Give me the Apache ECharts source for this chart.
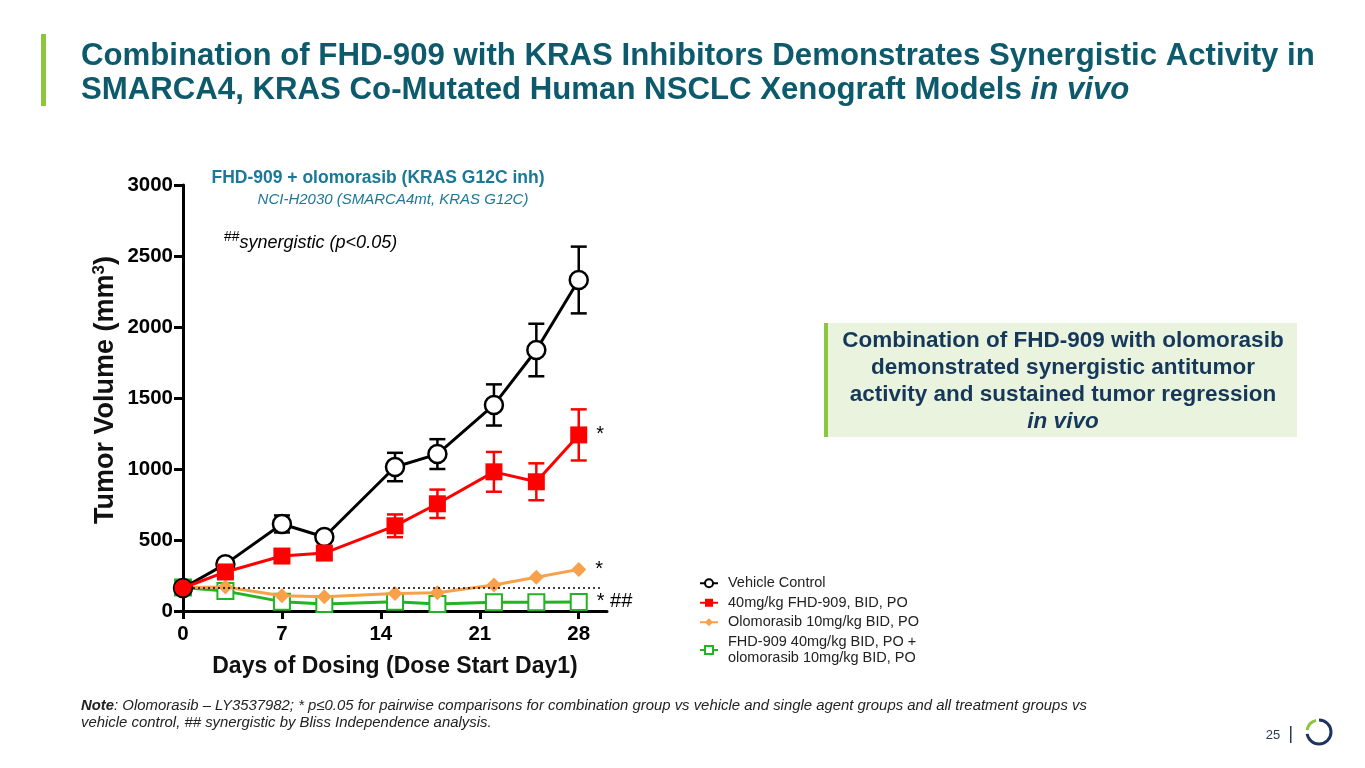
<!DOCTYPE html>
<html>
<head>
<meta charset="utf-8">
<style>
  html, body { margin: 0; padding: 0; background: #fff; }
  #main { width: 1365px; height: 768px; }
</style>
<script src="https://cdn.jsdelivr.net/npm/echarts@6/dist/echarts.min.js"></script>
</head>
<body>
<div id="main"></div>
<script>
    // days of dosing
    var days = [0, 3, 7, 10, 15, 18, 22, 25, 28];
    var xTicks = [0, 7, 14, 21, 28];

    // tumor volume (mm3), mean and SEM
    var vehicle = [162, 330, 613, 521, 1014, 1105, 1451, 1838, 2331];
    var vehicleErr = [15, 25, 60, 25, 100, 105, 145, 185, 235];
    var fhd909 = [162, 275, 387, 408, 600, 755, 980, 910, 1240];
    var fhd909Err = [15, 30, 35, 35, 80, 100, 140, 130, 180];
    var olomorasib = [165, 169, 108, 101, 124, 129, 183, 237, 293];
    var combo = [165, 140, 66, 50, 66, 49, 61, 61, 64];

    var seriesNames = [
        'Vehicle Control',
        '40mg/kg FHD-909, BID, PO',
        'Olomorasib 10mg/kg BID, PO',
        'FHD-909 40mg/kg BID, PO +\nolomorasib 10mg/kg BID, PO'
    ];
    var lastMarks = ['', '*', '*', '* ##'];

    var FONT = 'Arial, "Liberation Sans", sans-serif';

    function pairs(ys, mark) {
        return ys.map(function (y, i) {
            var item = { value: [days[i], y] };
            if (mark && i === ys.length - 1) {
                item.label = {
                    show: true, position: 'right', distance: 9,
                    formatter: mark, color: '#000', fontSize: 20, fontFamily: FONT
                };
            }
            return item;
        });
    }

    function errData(ys, errs) {
        return ys.map(function (y, i) { return [days[i], y, errs[i]]; });
    }

    function errorBars(color) {
        return function (params, api) {
            var x = api.value(0), y = api.value(1), e = api.value(2);
            var top = api.coord([x, y + e]);
            var bot = api.coord([x, y - e]);
            var w = 8;
            var st = { stroke: color, lineWidth: 2.5 };
            return {
                type: 'group',
                children: [
                    { type: 'line', shape: { x1: top[0], y1: top[1], x2: bot[0], y2: bot[1] }, style: st },
                    { type: 'line', shape: { x1: top[0] - w, y1: top[1], x2: top[0] + w, y2: top[1] }, style: st },
                    { type: 'line', shape: { x1: bot[0] - w, y1: bot[1], x2: bot[0] + w, y2: bot[1] }, style: st }
                ]
            };
        };
    }

    var chart = echarts.init(document.getElementById('main'));

    var fhdData = pairs(fhd909, lastMarks[1]);
    fhdData[0].symbol = 'circle';

    var option = {
        backgroundColor: '#fff',
        animation: false,
        textStyle: { fontFamily: FONT },
        grid: { left: 183, top: 185, width: 424, height: 426 },
        legend: {
            orient: 'vertical',
            left: 694,
            top: 570,
            itemWidth: 18,
            itemHeight: 10,
            itemGap: 3,
            textStyle: { fontSize: 14.5, color: '#222', fontFamily: FONT, lineHeight: 16.5, padding: [0, 0, 0, 5] },
            data: seriesNames
        },
        xAxis: {
            type: 'value',
            min: 0,
            max: 30,
            interval: 7,
            name: 'Days of Dosing (Dose Start Day1)',
            nameLocation: 'middle',
            nameGap: 44,
            nameTextStyle: { fontSize: 23, fontWeight: 'bold', color: '#111', fontFamily: FONT },
            axisLine: { lineStyle: { color: '#000', width: 3 } },
            axisTick: { show: true, length: 8, lineStyle: { color: '#000', width: 3 }, customValues: xTicks },
            axisLabel: { fontSize: 20.5, fontWeight: 'bold', color: '#000', margin: 13, customValues: xTicks },
            splitLine: { show: false }
        },
        yAxis: {
            type: 'value',
            min: 0,
            max: 3000,
            interval: 500,
            axisLine: { show: true, lineStyle: { color: '#000', width: 3 } },
            axisTick: { show: true, length: 9, lineStyle: { color: '#000', width: 3 } },
            axisLabel: {
                fontSize: 20.5, fontWeight: 'bold', color: '#000', margin: 10,
                formatter: function (v) { return String(v); }
            },
            splitLine: { show: false }
        },
        series: [
            {
                type: 'custom', name: 'vehErr', z: 1, silent: true,
                renderItem: errorBars('#000'), data: errData(vehicle, vehicleErr)
            },
            {
                type: 'custom', name: 'fhdErr', z: 1, silent: true,
                renderItem: errorBars('#ff0000'), data: errData(fhd909, fhd909Err)
            },
            {
                name: seriesNames[0],
                type: 'line',
                z: 4,
                symbol: 'circle',
                symbolSize: 18,
                itemStyle: { color: '#fff', borderColor: '#000', borderWidth: 2.5 },
                lineStyle: { color: '#000', width: 3 },
                data: pairs(vehicle, lastMarks[0])
            },
            {
                name: seriesNames[1],
                type: 'line',
                z: 5,
                symbol: 'rect',
                symbolSize: 17,
                itemStyle: { color: '#ff0000' },
                lineStyle: { color: '#ff0000', width: 3 },
                data: fhdData
            },
            {
                name: seriesNames[2],
                type: 'line',
                z: 3,
                symbol: 'diamond',
                symbolSize: 15,
                itemStyle: { color: '#f9a04a' },
                lineStyle: { color: '#f9a04a', width: 3 },
                data: pairs(olomorasib, lastMarks[2])
            },
            {
                name: seriesNames[3],
                type: 'line',
                z: 2,
                symbol: 'rect',
                symbolSize: 16,
                itemStyle: { color: '#fff', borderColor: '#22b422', borderWidth: 2 },
                lineStyle: { color: '#22b422', width: 3 },
                data: pairs(combo, lastMarks[3]),
                markLine: {
                    silent: true,
                    symbol: 'none',
                    label: { show: false },
                    lineStyle: { color: '#000', type: [2, 3], width: 1.5 },
                    data: [[{ coord: [0, combo[0]] }, { coord: [29.5, combo[0]] }]]
                }
            }
        ],
        graphic: [
            // title
            { type: 'rect', left: 41, top: 34, shape: { width: 5, height: 72 }, style: { fill: '#8cc63f' } },
            {
                type: 'text', left: 81, top: 39,
                style: {
                    text: 'Combination of FHD-909 with KRAS Inhibitors Demonstrates Synergistic Activity in\n{n|SMARCA4, KRAS Co-Mutated Human NSCLC Xenograft Models }{i|in vivo}',
                    font: 'bold 31.2px ' + FONT, fill: '#0d5a6c', lineHeight: 34,
                    rich: {
                        n: { font: 'bold 31.2px ' + FONT, fill: '#0d5a6c', lineHeight: 34 },
                        i: { font: 'italic bold 31.2px ' + FONT, fill: '#0d5a6c', lineHeight: 34 }
                    }
                }
            },
            // chart header
            {
                type: 'text', x: 378, y: 178,
                style: {
                    text: 'FHD-909 + olomorasib (KRAS G12C inh)', align: 'center', verticalAlign: 'middle',
                    font: 'bold 17.5px ' + FONT, fill: '#1b7898'
                }
            },
            {
                type: 'text', x: 393, y: 200,
                style: {
                    text: 'NCI-H2030 (SMARCA4mt, KRAS G12C)', align: 'center', verticalAlign: 'middle',
                    font: 'italic 15px ' + FONT, fill: '#1b7898'
                }
            },
            {
                type: 'text', x: 224, y: 243,
                style: {
                    text: '{s|##}{t|synergistic (p<0.05)}', verticalAlign: 'middle',
                    rich: {
                        s: { font: '14px ' + FONT, fill: '#000', padding: [0, 0, 12, 0] },
                        t: { font: 'italic 18px ' + FONT, fill: '#000' }
                    }
                }
            },
            // y axis name
            {
                type: 'text', x: 106, y: 390, rotation: Math.PI / 2,
                style: {
                    text: '{a|Tumor Volume (mm}{b|3}{a|)}', align: 'center', verticalAlign: 'middle',
                    rich: {
                        a: { font: 'bold 27px ' + FONT, fill: '#111' },
                        b: { font: 'bold 17px ' + FONT, fill: '#111', padding: [0, 0, 14, 0] }
                    }
                }
            },
            // callout
            { type: 'rect', left: 824, top: 323, shape: { width: 473, height: 114 }, style: { fill: '#e9f3dd' } },
            { type: 'rect', left: 824, top: 323, shape: { width: 4, height: 114 }, style: { fill: '#8cc63f' } },
            {
                type: 'text', x: 1063, y: 381,
                style: {
                    text: 'Combination of FHD-909 with olomorasib\ndemonstrated synergistic antitumor\nactivity and sustained tumor regression\n{i|in vivo}',
                    align: 'center', verticalAlign: 'middle',
                    font: 'bold 22.5px ' + FONT, fill: '#15385a', lineHeight: 27,
                    rich: { i: { font: 'italic bold 22.5px ' + FONT, fill: '#15385a', lineHeight: 27 } }
                }
            },
            // note
            {
                type: 'text', left: 81, top: 697,
                style: {
                    text: '{b|Note}{n|: Olomorasib – LY3537982; * p≤0.05 for pairwise comparisons for combination group vs vehicle and single agent groups and all treatment groups vs}\n{n|vehicle control, ## synergistic by Bliss Independence analysis.}',
                    lineHeight: 17,
                    rich: {
                        b: { font: 'italic bold 14.9px ' + FONT, fill: '#222', lineHeight: 17 },
                        n: { font: 'italic 14.9px ' + FONT, fill: '#222', lineHeight: 17 }
                    }
                }
            },
            // footer
            {
                type: 'text', x: 1273, y: 735,
                style: { text: '25', align: 'center', verticalAlign: 'middle', font: '13px ' + FONT, fill: '#2a3a55' }
            },
            { type: 'rect', left: 1290, top: 726, shape: { width: 1.5, height: 17 }, style: { fill: '#2a3a55' } },
            {
                type: 'arc', shape: { cx: 1319, cy: 732, r: 12, startAngle: -Math.PI * 0.5, endAngle: Math.PI * 0.95 },
                style: { stroke: '#1d3461', lineWidth: 3, fill: null }
            },
            {
                type: 'arc', shape: { cx: 1319, cy: 732, r: 12, startAngle: Math.PI * 1.05, endAngle: Math.PI * 1.42 },
                style: { stroke: '#8cc63f', lineWidth: 3, fill: null }
            }
        ]
    };

    chart.setOption(option);
</script>
</body>
</html>
